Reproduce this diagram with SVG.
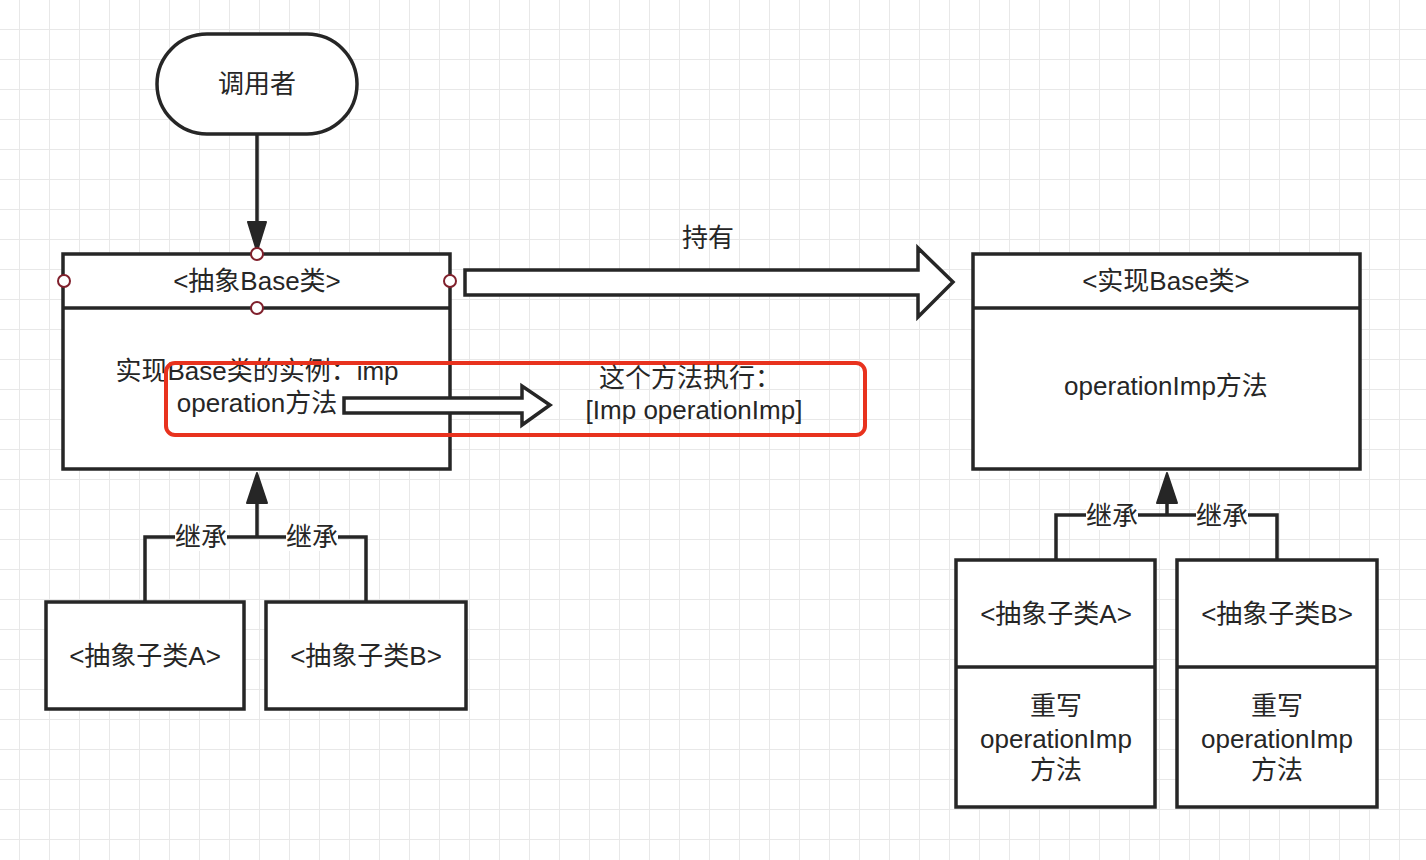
<svg xmlns="http://www.w3.org/2000/svg" width="1426" height="860" viewBox="0 0 1426 860">
<style>
.box{fill:#fff;stroke:#262626;stroke-width:3.5}
.ln{fill:none;stroke:#262626;stroke-width:3.5}
.t{font-family:"Liberation Sans","Noto Sans CJK SC",sans-serif;font-size:26px;fill:#262626;text-anchor:middle}
.pt{fill:#fff;stroke:#80202c;stroke-width:2}
.lbl{fill:#fff}
.hollow{fill:#fff;stroke:#262626;stroke-width:3.5}
.head{fill:#262626;stroke:#262626;stroke-width:2;stroke-linejoin:round}
</style>
<defs>
<pattern id="grid" x="19" y="29" width="30" height="30" patternUnits="userSpaceOnUse">
<path d="M0 0H30M0 0V30" fill="none" stroke="#e8e8e8" stroke-width="2"/>
</pattern>
</defs>
<rect width="1426" height="860" fill="#fff"/>
<rect width="1426" height="860" fill="url(#grid)"/>

<g id="connectors">
<path class="ln" d="M257 135V226"/>
<path class="head" d="M248 222L266 222L257 251Z"/>
<path class="hollow" d="M465 270H918V248L953 282L918 317V295H465Z"/>
<path class="ln" d="M145 601V537H366V601M257 537V500"/>
<path class="head" d="M247 503L267 503L257 473Z"/>
<path class="ln" d="M1056 559V515H1277V559M1167 515V500"/>
<path class="head" d="M1157 503L1177 503L1167 473Z"/>
<rect class="lbl" x="175" y="523" width="52" height="28"/>
<text class="t" x="201" y="546" font-size="24">继承</text>
<rect class="lbl" x="286" y="523" width="52" height="28"/>
<text class="t" x="312" y="546" font-size="24">继承</text>
<rect class="lbl" x="1086" y="502" width="52" height="28"/>
<text class="t" x="1112" y="525" font-size="24">继承</text>
<rect class="lbl" x="1196" y="502" width="52" height="28"/>
<text class="t" x="1222" y="525" font-size="24">继承</text>
<text class="t" x="708" y="247" font-size="25">持有</text>
</g>

<g id="caller">
<rect class="box" x="157" y="34" width="200" height="100" rx="50" ry="50"/>
<text class="t" x="257" y="93" font-size="25">调用者</text>
</g>

<g id="abstract-base">
<rect class="box" x="63" y="254" width="387" height="215"/>
<path class="ln" d="M63 308H450"/>
<text class="t" x="257" y="290">&lt;抽象Base类&gt;</text>
<text class="t" x="257" y="380">实现Base类的实例：imp</text>
<text class="t" x="257" y="412">operation方法</text>
<circle class="pt" cx="257" cy="254" r="6"/>
<circle class="pt" cx="64" cy="281" r="6"/>
<circle class="pt" cx="450" cy="281" r="6"/>
<circle class="pt" cx="257" cy="308" r="6"/>
</g>

<g id="impl-base">
<rect class="box" x="973" y="254" width="387" height="215"/>
<path class="ln" d="M973 308H1360"/>
<text class="t" x="1166" y="290">&lt;实现Base类&gt;</text>
<text class="t" x="1166" y="395">operationImp方法</text>
</g>

<g id="note">
<rect x="166" y="363" width="699" height="72" rx="9" ry="9" fill="none" stroke="#e8321e" stroke-width="4"/>
<text class="t" x="690" y="387">这个方法执行：</text>
<text class="t" x="694" y="419">[Imp operationImp]</text>
</g>

<g id="note-connector">
<path class="hollow" d="M344 398H522V386L550 405L522 425V413H344Z"/>
</g>

<g id="sub-a-left">
<rect class="box" x="46" y="602" width="198" height="107"/>
<text class="t" x="145" y="665">&lt;抽象子类A&gt;</text>
</g>

<g id="sub-b-left">
<rect class="box" x="266" y="602" width="200" height="107"/>
<text class="t" x="366" y="665">&lt;抽象子类B&gt;</text>
</g>

<g id="sub-a-right">
<rect class="box" x="956" y="560" width="199" height="247"/>
<path class="ln" d="M956 667H1155"/>
<text class="t" x="1056" y="623">&lt;抽象子类A&gt;</text>
<text class="t" x="1056" y="715">重写</text>
<text class="t" x="1056" y="748">operationImp</text>
<text class="t" x="1056" y="779">方法</text>
</g>

<g id="sub-b-right">
<rect class="box" x="1177" y="560" width="200" height="247"/>
<path class="ln" d="M1177 667H1377"/>
<text class="t" x="1277" y="623">&lt;抽象子类B&gt;</text>
<text class="t" x="1277" y="715">重写</text>
<text class="t" x="1277" y="748">operationImp</text>
<text class="t" x="1277" y="779">方法</text>
</g>
</svg>
